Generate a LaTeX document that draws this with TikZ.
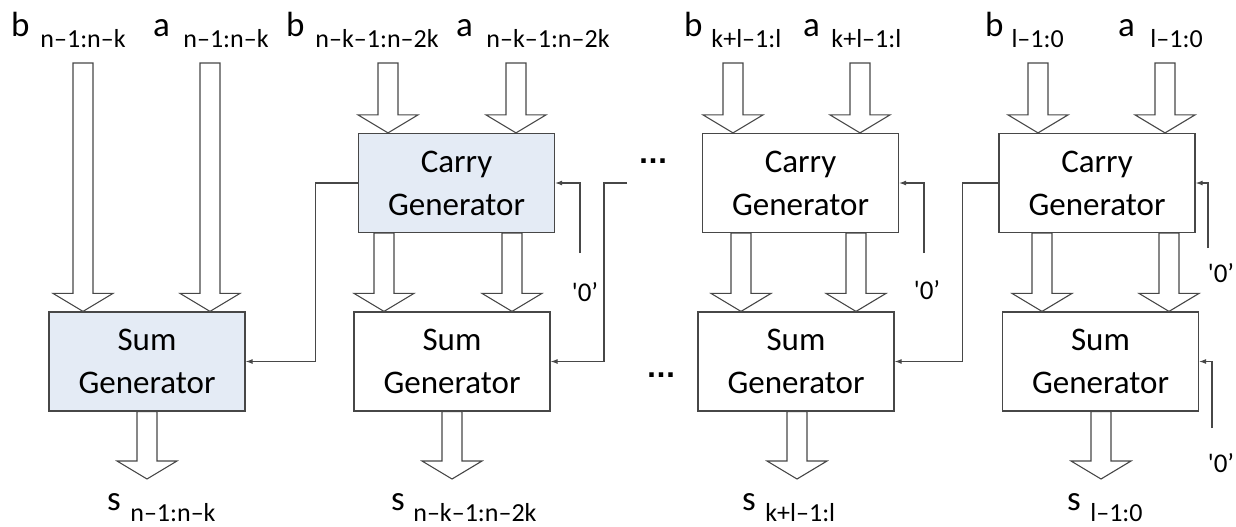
\documentclass[tikz,border=0pt]{standalone}
\usepackage{fontspec}
\setmainfont{Carlito}
\newfontfamily\dotfont{DejaVu Sans}
\usetikzlibrary{positioning, arrows.meta, calc}

\definecolor{genblue}{HTML}{E4EBF5}

\tikzset{
    gen/.style={draw=black!72, line width=1.2pt, minimum width=196pt, minimum height=99pt,
        inner sep=0pt, align=center, font=\fontsize{33}{43}\selectfont},
    genhi/.style={gen, fill=genblue},
    wire/.style={draw=black!72, line width=1.1pt, -{Latex[length=7pt,width=5pt]}},
    fat/.style={draw=black!72, line width=1.1pt, fill=white, line join=miter},
    zero/.style={inner sep=0pt, font=\fontsize{27}{30}\selectfont},
    portlbl/.style={anchor=base west, inner sep=0pt, font=\fontsize{35}{38}\selectfont},
    ellip/.style={inner sep=0pt, font=\dotfont\bfseries\fontsize{25}{25}\selectfont}
}

% main letter, gap, subscript
\newcommand{\portlabel}[3]{#1\hspace{#2pt}\raisebox{-11pt}{\fontsize{26}{28}\selectfont #3}}

% wide hollow arrow: x, shaft start, tip
\newcommand{\fatarrow}[3]{%
    \draw[fat] let \p1=#2, \p2=#3 in
        (#1pt-10pt,\y1) -- (#1pt-10pt,\y2+18pt) -- (#1pt-30pt,\y2+18pt) -- (#1pt,\y2) --
        (#1pt+30pt,\y2+18pt) -- (#1pt+10pt,\y2+18pt) -- (#1pt+10pt,\y1) -- cycle;}

\begin{document}
\begin{tikzpicture}[x=1pt, y=-1pt]

\useasboundingbox (0,0) rectangle (1236,527);

% generator blocks
\node[genhi] (sumA) at (147,361.5) {Sum\\Generator};
\node[genhi] (carryB) at (456.5,183) {Carry\\Generator};
\node[gen] (sumB) at (452,361.5) {Sum\\Generator};
\node[gen] (carryC) at (800.5,183) {Carry\\Generator};
\node[gen] (sumC) at (796,361.5) {Sum\\Generator};
\node[gen] (carryD) at (1097,183) {Carry\\Generator};
\node[gen] (sumD) at (1100.5,361.5) {Sum\\Generator};

% operand and result names
\node[portlbl] (bA) at (11,37) {\portlabel{b}{10.9}{n–1:n–k}};
\node[portlbl] (aA) at (153,37) {\portlabel{a}{13.5}{n–1:n–k}};
\node[portlbl] (bB) at (286,37) {\portlabel{b}{10.9}{n–k–1:n–2k}};
\node[portlbl] (aB) at (456,37) {\portlabel{a}{13.5}{n–k–1:n–2k}};
\node[portlbl] (bC) at (684,37) {\portlabel{b}{8.9}{k+l–1:l}};
\node[portlbl] (aC) at (803,37) {\portlabel{a}{11.5}{k+l–1:l}};
\node[portlbl] (bD) at (985,37) {\portlabel{b}{7.9}{l–1:0}};
\node[portlbl] (aD) at (1118,37) {\portlabel{a}{15.5}{l–1:0}};

\node[portlbl] (sA) at (107,510) {\portlabel{s}{9.5}{n–1:n–k}};
\node[portlbl] (sB) at (391,510) {\portlabel{s}{8.5}{n–k–1:n–2k}};
\node[portlbl] (sC) at (742,510) {\portlabel{s}{9.5}{k+l–1:l}};
\node[portlbl] (sD) at (1067,510) {\portlabel{s}{9.5}{l–1:0}};

\coordinate (intop) at (0,63);
\coordinate (outtip) at (0,479);

% buses
\foreach \bx/\gn in {83/sumA, 210/sumA, 388/carryB, 516/carryB,
        733/carryC, 860/carryC, 1038/carryD, 1165/carryD}
    \fatarrow{\bx}{(intop)}{(\gn.north)};
\foreach \bx/\ga/\gb in {384/carryB/sumB, 512/carryB/sumB, 741/carryC/sumC,
        856/carryC/sumC, 1042/carryD/sumD, 1169/carryD/sumD}
    \fatarrow{\bx}{(\ga.south)}{(\gb.north)};
\foreach \bx/\gn in {147/sumA, 452/sumB, 797/sumC, 1101/sumD}
    \fatarrow{\bx}{(\gn.south)}{(outtip)};

% carries
\draw[wire] (carryB.west) -- ++(-42,0) |- (sumA.east);
\coordinate (fromC) at (627,183);
\draw[wire] (fromC) -- ++(-23,0) |- (sumB.east);
\draw[wire] (carryD.west) -- ++(-36,0) |- (sumC.east);

% constant inputs
\coordinate (zinB) at (580,253);
\coordinate (zinC) at (924,253);
\coordinate (zinD) at (1208,248);
\coordinate (zinDs) at (1212,428);
\draw[wire] (zinB) |- (carryB.east);
\draw[wire] (zinC) |- (carryC.east);
\draw[wire] (zinD) |- (carryD.east);
\draw[wire] (zinDs) |- (sumD.east);

\node[zero] (zB) at (585,292) {\textquotesingle 0'};
\node[zero] (zC) at (927,290) {\textquotesingle 0'};
\node[zero] (zD) at (1221,273) {\textquotesingle 0'};
\node[zero] (zDs) at (1221,463) {\textquotesingle 0'};

\node[ellip] (dotsT) at (653,161) {...};
\node[ellip] (dotsB) at (661,375) {...};

\end{tikzpicture}
\end{document}
